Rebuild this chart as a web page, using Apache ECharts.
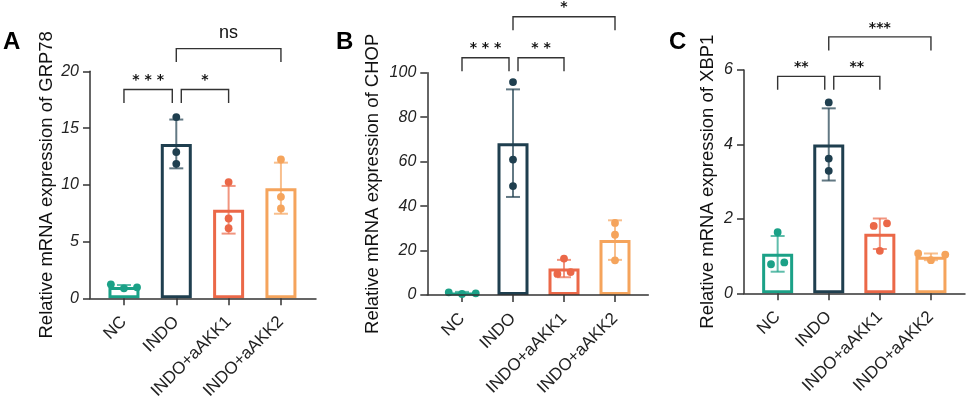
<!DOCTYPE html>
<html>
<head>
<meta charset="utf-8" />
<title>GRP78 / CHOP / XBP1</title>
<style>
  html, body { margin: 0; padding: 0; background: #fff; }
  #chart { width: 969px; height: 399px; }
</style>
</head>
<body>
<div id="chart"></div>
<script src="https://cdn.jsdelivr.net/npm/echarts@6/dist/echarts.min.js"></script>
<script>
// ---- data ----
const categories = ['NC', 'INDO', 'INDO+aAKK1', 'INDO+aAKK2'];

const grp78Mean = [1.0, 13.6, 7.8, 9.7];
const grp78Sd = [0.17, 2.15, 2.1, 2.25];
const grp78Points = [[1.23, 0.88, 0.97], [15.97, 12.88, 11.85], [10.24, 7.03, 6.18], [12.23, 8.94, 7.91]];
const grp78Sig = [[0, 1, 18.4, '* * *'], [1, 2, 18.4, '*'], [1, 3, 22.0, 'ns']];

const chopMean = [1.0, 68.3, 11.9, 24.7];
const chopSd = [0.4, 24.2, 3.9, 8.9];
const chopPoints = [[1.2, 0.45, 0.77], [95.8, 60.9, 49.0], [16.4, 9.5, 10.3], [32.4, 27.1, 15.6]];
const chopSig = [[0, 1, 106.7, '* * *'], [1, 2, 106.7, '* *'], [1, 3, 125.2, '*']];

const xbp1Mean = [1.06, 4.0, 1.6, 0.98];
const xbp1Sd = [0.48, 0.97, 0.41, 0.09];
const xbp1Points = [[1.64, 0.78, 0.83], [5.13, 3.62, 3.29], [1.81, 1.88, 1.14], [1.07, 0.89, 1.04]];
const xbp1Sig = [[0, 1, 5.83, '**'], [1, 2, 5.83, '**'], [1, 3, 6.89, '***']];

// ---- layout / style ----
const colors = ['#1ba187', '#1f3f4f', '#eb6848', '#f5a45c'];
const font = 'Liberation Sans, Arial, Helvetica, sans-serif';
const starFont = 'DejaVu Sans, sans-serif';
const ink = '#333';

const panels = [
  { letter: 'A', name: 'Relative mRNA expression of GRP78', mean: grp78Mean, sd: grp78Sd, pts: grp78Points, sig: grp78Sig,
    max: 20, step: 5, frame: [90, 71.3, 226, 227], plotLeft: 97.8, plotWidth: 209.3, nameGap: 34,
    jitter: [[-0.25, 0, 0.25], [0, 0, 0], [0, 0, 0], [0, 0, 0]], letterPos: [3, 30] },
  { letter: 'B', name: 'Relative mRNA expression of CHOP', mean: chopMean, sd: chopSd, pts: chopPoints, sig: chopSig,
    max: 100, step: 20, frame: [427.3, 72.7, 221, 222.3], plotLeft: 436.5, plotWidth: 204, nameGap: 45,
    jitter: [[-0.26, 0, 0.27], [0, 0, 0], [0, -0.13, 0.13], [0, 0, 0]], letterPos: [336, 30] },
  { letter: 'C', name: 'Relative mRNA expression of XBP1', mean: xbp1Mean, sd: xbp1Sd, pts: xbp1Points, sig: xbp1Sig,
    max: 6, step: 2, frame: [744, 70, 221, 223.3], plotLeft: 752.1, plotWidth: 204.4, nameGap: 27,
    jitter: [[0, -0.13, 0.13], [0, 0, 0], [-0.12, 0.14, 0], [-0.25, 0, 0.28]], letterPos: [669, 30] }
];
// pixel trims on bracket ends that meet at INDO
const bracketTrim = [[0, -4], [5, 0], [0, 0]];

const grid = [], xAxis = [], yAxis = [], series = [], graphic = [];

panels.forEach((p, k) => {
  const [fl, ft, fw, fh] = p.frame;
  const fi = grid.length;
  grid.push({ left: fl, top: ft, width: fw, height: fh, outerBoundsMode: 'none' });
  grid.push({ left: p.plotLeft, top: ft, width: p.plotWidth, height: fh, outerBoundsMode: 'none' });
  const pi = fi + 1;

  // frame axes: lines, y ticks and labels
  xAxis.push({
    type: 'value', gridIndex: fi, min: 0, max: 1, z: 6,
    axisLine: { show: true, lineStyle: { color: ink, width: 1.5 } },
    axisTick: { show: false }, axisLabel: { show: false }, splitLine: { show: false }
  });
  yAxis.push({
    type: 'value', gridIndex: fi, min: 0, max: p.max, interval: p.step,
    name: p.name, nameLocation: 'middle', nameGap: p.nameGap,
    nameTextStyle: { fontFamily: font, fontSize: 18.5, color: '#111' },
    axisLine: { show: true, lineStyle: { color: ink, width: 1.5 } },
    axisTick: { show: true, length: 7, lineStyle: { color: ink, width: 1.5 } },
    axisLabel: { fontFamily: font, fontSize: 16, fontStyle: 'italic', color: '#222', margin: 11 },
    splitLine: { show: false }
  });

  // plot axes: category ticks and labels
  xAxis.push({
    type: 'category', gridIndex: pi, data: categories,
    axisLine: { show: false },
    axisTick: { show: true, alignWithLabel: true, length: 7, lineStyle: { color: ink, width: 1.5 } },
    axisLabel: { rotate: 45, fontFamily: font, fontSize: 17, color: '#222', margin: 21, interval: 0 }
  });
  yAxis.push({ type: 'value', gridIndex: pi, min: 0, max: p.max, show: false, splitLine: { show: false } });

  const xai = xAxis.length - 1, yai = yAxis.length - 1;

  series.push({
    type: 'bar', xAxisIndex: xai, yAxisIndex: yai, barWidth: 31, silent: true, z: 2,
    data: p.mean.map((v, i) => ({ value: v, itemStyle: { color: '#fff', borderColor: colors[i], borderWidth: 3 } }))
  });

  series.push({
    type: 'custom', xAxisIndex: xai, yAxisIndex: yai, z: 3, silent: true,
    data: p.mean.map((v, i) => [i, v, p.sd[i]]),
    renderItem: (params, api) => {
      const i = api.value(0), m = api.value(1), s = api.value(2);
      const hi = api.coord([i, m + s]), lo = api.coord([i, m - s]);
      const x = hi[0], c = colors[i];
      const st = { stroke: c, lineWidth: 2, opacity: 0.7 };
      return { type: 'group', children: [
        { type: 'line', shape: { x1: x, y1: hi[1], x2: x, y2: lo[1] }, style: st },
        { type: 'line', shape: { x1: x - 7, y1: hi[1], x2: x + 7, y2: hi[1] }, style: st },
        { type: 'line', shape: { x1: x - 7, y1: lo[1], x2: x + 7, y2: lo[1] }, style: st }
      ] };
    }
  });

  const ptData = [];
  p.pts.forEach((arr, i) => arr.forEach((v, j) => ptData.push([i, v, p.jitter[i][j]])));
  series.push({
    type: 'custom', xAxisIndex: xai, yAxisIndex: yai, z: 4, silent: true,
    data: ptData,
    renderItem: (params, api) => {
      const i = api.value(0);
      const pt = api.coord([i, api.value(1)]);
      const bw = api.size([1, 0])[0];
      return { type: 'circle', shape: { cx: pt[0] + api.value(2) * bw, cy: pt[1], r: 3.9 }, style: { fill: colors[i] } };
    }
  });

  series.push({
    type: 'custom', xAxisIndex: xai, yAxisIndex: yai, z: 5, silent: true, clip: false,
    data: p.sig.map(s => [s[0], s[1], s[2]]),
    renderItem: (params, api) => {
      const s = p.sig[params.dataIndex];
      const tr = bracketTrim[params.dataIndex];
      const a = api.coord([api.value(0), api.value(2)]);
      const b = api.coord([api.value(1), api.value(2)]);
      const x1 = a[0] + tr[0], x2 = b[0] + tr[1], y = a[1];
      const isNs = s[3] === 'ns';
      return { type: 'group', children: [
        { type: 'polyline', shape: { points: [[x1, y + 13.5], [x1, y], [x2, y], [x2, y + 13.5]] },
          style: { stroke: ink, lineWidth: 1.4, fill: null } },
        { type: 'text', x: (x1 + x2) / 2, y: y - (isNs ? 16 : 9),
          style: { text: s[3], fontFamily: isNs ? font : starFont, fontSize: isNs ? 18 : 14,
                   fontWeight: isNs ? 'normal' : 'bold', fill: '#111', align: 'center', verticalAlign: 'middle' } }
      ] };
    }
  });

  graphic.push({
    type: 'text', left: p.letterPos[0], top: p.letterPos[1],
    style: { text: p.letter, font: 'bold 24px ' + font, fill: '#000' }
  });
});

const chart = echarts.init(document.getElementById('chart'));
chart.setOption({
  backgroundColor: '#fff',
  animation: false,
  grid, xAxis, yAxis, series, graphic
});
</script>
</body>
</html>
